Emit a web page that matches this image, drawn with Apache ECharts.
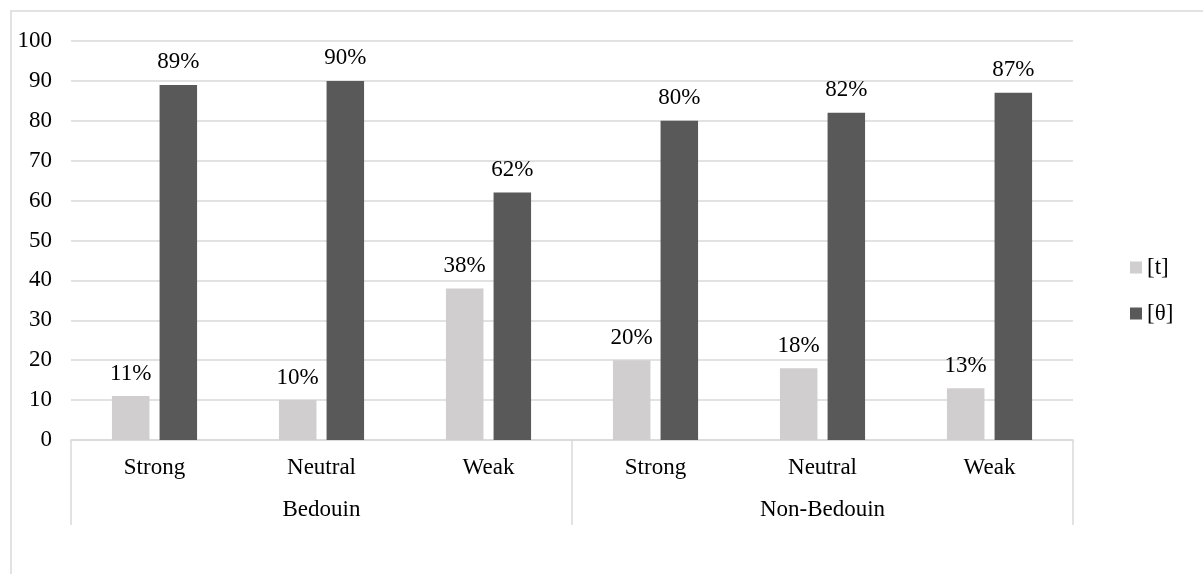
<!DOCTYPE html>
<html>
<head>
<meta charset="utf-8">
<script src="https://cdn.jsdelivr.net/npm/echarts@6/dist/echarts.min.js"></script>
<style>
  html, body { margin: 0; padding: 0; background: #fff; }
  #chart { width: 1203px; height: 574px; }
</style>
</head>
<body>
<div id="chart"></div>
<script>
// Realisation of the variable by speaker group and attitude
const groups = ['Bedouin', 'Non-Bedouin'];
const attitudes = ['Strong', 'Neutral', 'Weak', 'Strong', 'Neutral', 'Weak'];
const seriesNames = ['[t]', '[θ]'];
const valuesT = [11, 10, 38, 20, 18, 13];
const valuesTheta = [89, 90, 62, 80, 82, 87];
const yTicks = [0, 10, 20, 30, 40, 50, 60, 70, 80, 90, 100];

const FONT = '"Liberation Serif", "DejaVu Serif", serif';
const FS = 23;
const gridColor = '#d9d9d9';
const colors = ['#d0cece', '#595959'];

const chart = echarts.init(document.getElementById('chart'), null, { renderer: 'canvas' });

const labelStyle = {
  show: true,
  position: 'top',
  distance: 11,
  fontFamily: FONT,
  fontSize: FS,
  color: '#000',
  formatter: p => p.value + '%'
};

chart.setOption({
  animation: false,
  backgroundColor: '#fff',
  textStyle: { fontFamily: FONT },
  graphic: [{
    type: 'rect',
    shape: { x: 11, y: 11, width: 1300, height: 700 },
    style: { fill: 'none', stroke: gridColor, lineWidth: 1.5 },
    z: -1
  }],
  legend: {
    orient: 'vertical',
    left: 1125,
    top: 251,
    itemWidth: 12,
    itemHeight: 12,
    itemGap: 23,
    icon: 'rect',
    textStyle: { fontFamily: FONT, fontSize: FS, color: '#000' },
    data: seriesNames
  },
  grid: { left: 71, right: 130, top: 41, bottom: 134, containLabel: false },
  xAxis: [
    {
      type: 'category',
      data: attitudes,
      position: 'bottom',
      axisLine: { show: true, lineStyle: { color: gridColor, width: 1.5 } },
      axisTick: { show: false },
      axisLabel: { fontFamily: FONT, fontSize: FS, color: '#000', margin: 16 }
    },
    {
      type: 'category',
      data: groups,
      position: 'bottom',
      offset: 0,
      axisLine: { show: false },
      axisTick: { show: true, length: 85, inside: false, lineStyle: { color: gridColor, width: 1.5 } },
      axisLabel: { fontFamily: FONT, fontSize: FS, color: '#000', margin: 58 }
    }
  ],
  yAxis: {
    type: 'value',
    min: yTicks[0],
    max: yTicks[yTicks.length - 1],
    interval: 10,
    axisLine: { show: false },
    axisTick: { show: false },
    axisLabel: { fontFamily: FONT, fontSize: FS, color: '#000', margin: 19 },
    splitLine: { lineStyle: { color: gridColor, width: 1.5 } }
  },
  series: [
    {
      name: seriesNames[0],
      type: 'bar',
      xAxisIndex: 0,
      data: valuesT,
      barWidth: 37.5,
      barGap: '27%',
      itemStyle: { color: colors[0] },
      label: labelStyle
    },
    {
      name: seriesNames[1],
      type: 'bar',
      xAxisIndex: 0,
      data: valuesTheta,
      barWidth: 37.5,
      barGap: '27%',
      itemStyle: { color: colors[1] },
      label: labelStyle
    }
  ]
});
</script>
</body>
</html>
